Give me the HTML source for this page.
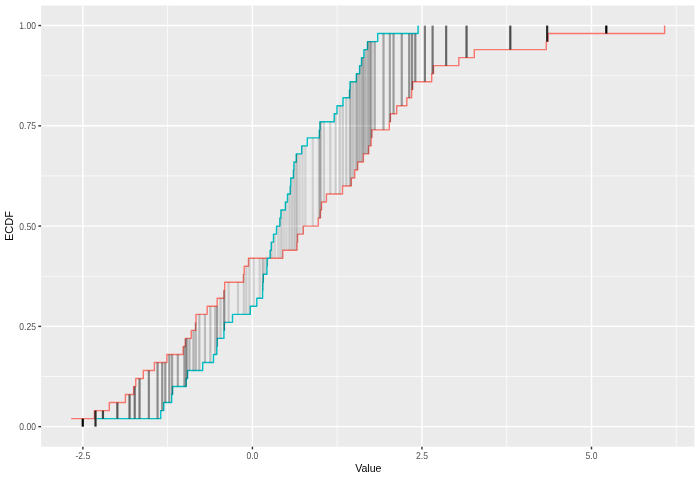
<!DOCTYPE html>
<html><head><meta charset="utf-8"><title>ECDF</title>
<style>html,body{margin:0;padding:0;background:#FFFFFF;}svg{display:block;}</style>
</head><body>
<svg width="700" height="480" viewBox="0 0 700 480">
<rect x="0" y="0" width="700" height="480" fill="#FFFFFF"/>
<rect x="41.1" y="5.5" width="653.30" height="441.17" fill="#EBEBEB"/>
<line x1="41.1" x2="694.4" y1="376.51" y2="376.51" stroke="#FFFFFF" stroke-width="0.71"/>
<line x1="41.1" x2="694.4" y1="276.24" y2="276.24" stroke="#FFFFFF" stroke-width="0.71"/>
<line x1="41.1" x2="694.4" y1="175.96" y2="175.96" stroke="#FFFFFF" stroke-width="0.71"/>
<line x1="41.1" x2="694.4" y1="75.69" y2="75.69" stroke="#FFFFFF" stroke-width="0.71"/>
<line x1="167.62" x2="167.62" y1="5.5" y2="446.67" stroke="#FFFFFF" stroke-width="0.71"/>
<line x1="337.18" x2="337.18" y1="5.5" y2="446.67" stroke="#FFFFFF" stroke-width="0.71"/>
<line x1="506.73" x2="506.73" y1="5.5" y2="446.67" stroke="#FFFFFF" stroke-width="0.71"/>
<line x1="676.27" x2="676.27" y1="5.5" y2="446.67" stroke="#FFFFFF" stroke-width="0.71"/>
<line x1="41.1" x2="694.4" y1="426.65" y2="426.65" stroke="#FFFFFF" stroke-width="1.42"/>
<line x1="41.1" x2="694.4" y1="326.38" y2="326.38" stroke="#FFFFFF" stroke-width="1.42"/>
<line x1="41.1" x2="694.4" y1="226.10" y2="226.10" stroke="#FFFFFF" stroke-width="1.42"/>
<line x1="41.1" x2="694.4" y1="125.82" y2="125.82" stroke="#FFFFFF" stroke-width="1.42"/>
<line x1="41.1" x2="694.4" y1="25.55" y2="25.55" stroke="#FFFFFF" stroke-width="1.42"/>
<line x1="82.85" x2="82.85" y1="5.5" y2="446.67" stroke="#FFFFFF" stroke-width="1.42"/>
<line x1="252.40" x2="252.40" y1="5.5" y2="446.67" stroke="#FFFFFF" stroke-width="1.42"/>
<line x1="421.95" x2="421.95" y1="5.5" y2="446.67" stroke="#FFFFFF" stroke-width="1.42"/>
<line x1="591.50" x2="591.50" y1="5.5" y2="446.67" stroke="#FFFFFF" stroke-width="1.42"/>
<path d="M71.10,418.63 L94.40,418.63 L94.40,410.61 L109.30,410.61 L109.30,402.58 L125.40,402.58 L125.40,394.56 L133.70,394.56 L133.70,386.54 L135.75,386.54 L135.75,378.52 L143.30,378.52 L143.30,370.50 L154.40,370.50 L154.40,362.47 L166.90,362.47 L166.90,354.45 L183.15,354.45 L183.15,346.43 L185.40,346.43 L185.40,338.41 L191.25,338.41 L191.25,330.39 L195.60,330.39 L195.60,322.36 L196.00,322.36 L196.00,314.34 L207.20,314.34 L207.20,306.32 L217.20,306.32 L217.20,298.30 L224.10,298.30 L224.10,290.28 L224.70,290.28 L224.70,282.25 L243.50,282.25 L243.50,274.23 L244.20,274.23 L244.20,266.21 L248.50,266.21 L248.50,258.19 L282.80,258.19 L282.80,250.17 L296.90,250.17 L296.90,242.14 L297.50,242.14 L297.50,234.12 L303.30,234.12 L303.30,226.10 L318.30,226.10 L318.30,218.08 L320.40,218.08 L320.40,210.06 L321.50,210.06 L321.50,202.03 L326.40,202.03 L326.40,194.01 L342.50,194.01 L342.50,185.99 L351.30,185.99 L351.30,177.97 L354.70,177.97 L354.70,169.95 L357.70,169.95 L357.70,161.92 L363.40,161.92 L363.40,153.90 L368.60,153.90 L368.60,145.88 L371.20,145.88 L371.20,137.86 L371.70,137.86 L371.70,129.84 L389.30,129.84 L389.30,121.81 L390.40,121.81 L390.40,113.79 L396.70,113.79 L396.70,105.77 L406.80,105.77 L406.80,97.75 L411.60,97.75 L411.60,89.73 L412.50,89.73 L412.50,81.70 L431.70,81.70 L431.70,73.68 L433.50,73.68 L433.50,65.66 L458.80,65.66 L458.80,57.64 L474.30,57.64 L474.30,49.62 L546.30,49.62 L546.30,41.59 L548.00,41.59 L548.00,33.57 L664.60,33.57 L664.60,25.55" fill="none" stroke="#F8766D" stroke-width="1.42" stroke-linejoin="round"/>
<path d="M96.60,418.63 L160.70,418.63 L160.70,410.61 L163.75,410.61 L163.75,402.58 L171.70,402.58 L171.70,394.56 L172.50,394.56 L172.50,386.54 L186.20,386.54 L186.20,378.52 L187.60,378.52 L187.60,370.50 L202.70,370.50 L202.70,362.47 L213.50,362.47 L213.50,354.45 L216.80,354.45 L216.80,346.43 L217.20,346.43 L217.20,338.41 L223.90,338.41 L223.90,330.39 L224.30,330.39 L224.30,322.36 L232.50,322.36 L232.50,314.34 L250.30,314.34 L250.30,306.32 L256.80,306.32 L256.80,298.30 L262.60,298.30 L262.60,290.28 L262.80,290.28 L262.80,282.25 L263.30,282.25 L263.30,274.23 L266.90,274.23 L266.90,266.21 L267.20,266.21 L267.20,258.19 L270.20,258.19 L270.20,250.17 L271.25,250.17 L271.25,242.14 L273.50,242.14 L273.50,234.12 L276.50,234.12 L276.50,226.10 L279.90,226.10 L279.90,218.08 L280.90,218.08 L280.90,210.06 L285.40,210.06 L285.40,202.03 L287.50,202.03 L287.50,194.01 L290.30,194.01 L290.30,185.99 L290.70,185.99 L290.70,177.97 L293.50,177.97 L293.50,169.95 L293.90,169.95 L293.90,161.92 L296.30,161.92 L296.30,153.90 L301.70,153.90 L301.70,145.88 L307.30,145.88 L307.30,137.86 L319.40,137.86 L319.40,129.84 L320.00,129.84 L320.00,121.81 L334.20,121.81 L334.20,113.79 L337.00,113.79 L337.00,105.77 L343.00,105.77 L343.00,97.75 L349.60,97.75 L349.60,89.73 L350.10,89.73 L350.10,81.70 L356.35,81.70 L356.35,73.68 L359.60,73.68 L359.60,65.66 L361.50,65.66 L361.50,57.64 L363.90,57.64 L363.90,49.62 L367.50,49.62 L367.50,41.59 L377.70,41.59 L377.70,33.57 L418.10,33.57 L418.10,25.55" fill="none" stroke="#00BFC4" stroke-width="1.42" stroke-linejoin="round"/>
<line x1="82.75" x2="82.75" y1="418.63" y2="426.65" stroke="#000000" stroke-opacity="1.000" stroke-width="2.2"/>
<line x1="95.50" x2="95.50" y1="410.61" y2="426.65" stroke="#000000" stroke-opacity="0.810" stroke-width="2.2"/>
<line x1="102.95" x2="102.95" y1="410.61" y2="418.63" stroke="#000000" stroke-opacity="0.699" stroke-width="2.2"/>
<line x1="117.35" x2="117.35" y1="402.58" y2="418.63" stroke="#000000" stroke-opacity="0.622" stroke-width="2.2"/>
<line x1="129.55" x2="129.55" y1="394.56" y2="418.63" stroke="#000000" stroke-opacity="0.563" stroke-width="2.2"/>
<line x1="134.72" x2="134.72" y1="386.54" y2="418.63" stroke="#000000" stroke-opacity="0.515" stroke-width="2.2"/>
<line x1="139.53" x2="139.53" y1="378.52" y2="418.63" stroke="#000000" stroke-opacity="0.475" stroke-width="2.2"/>
<line x1="148.85" x2="148.85" y1="370.50" y2="418.63" stroke="#000000" stroke-opacity="0.441" stroke-width="2.2"/>
<line x1="157.55" x2="157.55" y1="362.47" y2="418.63" stroke="#000000" stroke-opacity="0.411" stroke-width="2.2"/>
<line x1="162.22" x2="162.22" y1="362.47" y2="410.61" stroke="#000000" stroke-opacity="0.385" stroke-width="2.2"/>
<line x1="165.32" x2="165.32" y1="362.47" y2="402.58" stroke="#000000" stroke-opacity="0.361" stroke-width="2.2"/>
<line x1="169.30" x2="169.30" y1="354.45" y2="402.58" stroke="#000000" stroke-opacity="0.340" stroke-width="2.2"/>
<line x1="172.10" x2="172.10" y1="354.45" y2="394.56" stroke="#000000" stroke-opacity="0.321" stroke-width="2.2"/>
<line x1="177.82" x2="177.82" y1="354.45" y2="386.54" stroke="#000000" stroke-opacity="0.304" stroke-width="2.2"/>
<line x1="184.28" x2="184.28" y1="346.43" y2="386.54" stroke="#000000" stroke-opacity="0.288" stroke-width="2.2"/>
<line x1="185.80" x2="185.80" y1="338.41" y2="386.54" stroke="#000000" stroke-opacity="0.273" stroke-width="2.2"/>
<line x1="186.90" x2="186.90" y1="338.41" y2="378.52" stroke="#000000" stroke-opacity="0.259" stroke-width="2.2"/>
<line x1="189.43" x2="189.43" y1="338.41" y2="370.50" stroke="#000000" stroke-opacity="0.247" stroke-width="2.2"/>
<line x1="193.43" x2="193.43" y1="330.39" y2="370.50" stroke="#000000" stroke-opacity="0.235" stroke-width="2.2"/>
<line x1="195.80" x2="195.80" y1="322.36" y2="370.50" stroke="#000000" stroke-opacity="0.224" stroke-width="2.2"/>
<line x1="199.35" x2="199.35" y1="314.34" y2="370.50" stroke="#000000" stroke-opacity="0.214" stroke-width="2.2"/>
<line x1="204.95" x2="204.95" y1="314.34" y2="362.47" stroke="#000000" stroke-opacity="0.205" stroke-width="2.2"/>
<line x1="210.35" x2="210.35" y1="306.32" y2="362.47" stroke="#000000" stroke-opacity="0.196" stroke-width="2.2"/>
<line x1="215.15" x2="215.15" y1="306.32" y2="354.45" stroke="#000000" stroke-opacity="0.188" stroke-width="2.2"/>
<line x1="217.00" x2="217.00" y1="306.32" y2="346.43" stroke="#000000" stroke-opacity="0.180" stroke-width="2.2"/>
<line x1="217.20" x2="217.20" y1="306.32" y2="338.41" stroke="#000000" stroke-opacity="0.173" stroke-width="2.2"/>
<line x1="220.55" x2="220.55" y1="298.30" y2="338.41" stroke="#000000" stroke-opacity="0.166" stroke-width="2.2"/>
<line x1="224.00" x2="224.00" y1="298.30" y2="330.39" stroke="#000000" stroke-opacity="0.160" stroke-width="2.2"/>
<line x1="224.20" x2="224.20" y1="290.28" y2="330.39" stroke="#000000" stroke-opacity="0.154" stroke-width="2.2"/>
<line x1="224.50" x2="224.50" y1="290.28" y2="322.36" stroke="#000000" stroke-opacity="0.149" stroke-width="2.2"/>
<line x1="228.60" x2="228.60" y1="282.25" y2="322.36" stroke="#000000" stroke-opacity="0.143" stroke-width="2.2"/>
<line x1="238.00" x2="238.00" y1="282.25" y2="314.34" stroke="#000000" stroke-opacity="0.139" stroke-width="2.2"/>
<line x1="243.85" x2="243.85" y1="274.23" y2="314.34" stroke="#000000" stroke-opacity="0.134" stroke-width="2.2"/>
<line x1="246.35" x2="246.35" y1="266.21" y2="314.34" stroke="#000000" stroke-opacity="0.130" stroke-width="2.2"/>
<line x1="249.40" x2="249.40" y1="258.19" y2="314.34" stroke="#000000" stroke-opacity="0.126" stroke-width="2.2"/>
<line x1="253.55" x2="253.55" y1="258.19" y2="306.32" stroke="#000000" stroke-opacity="0.123" stroke-width="2.2"/>
<line x1="259.70" x2="259.70" y1="258.19" y2="298.30" stroke="#000000" stroke-opacity="0.120" stroke-width="2.2"/>
<line x1="262.70" x2="262.70" y1="258.19" y2="290.28" stroke="#000000" stroke-opacity="0.117" stroke-width="2.2"/>
<line x1="263.05" x2="263.05" y1="258.19" y2="282.25" stroke="#000000" stroke-opacity="0.114" stroke-width="2.2"/>
<line x1="265.10" x2="265.10" y1="258.19" y2="274.23" stroke="#000000" stroke-opacity="0.111" stroke-width="2.2"/>
<line x1="267.05" x2="267.05" y1="258.19" y2="266.21" stroke="#000000" stroke-opacity="0.109" stroke-width="2.2"/>
<line x1="270.73" x2="270.73" y1="258.19" y2="250.17" stroke="#000000" stroke-opacity="0.106" stroke-width="2.2"/>
<line x1="272.38" x2="272.38" y1="258.19" y2="242.14" stroke="#000000" stroke-opacity="0.104" stroke-width="2.2"/>
<line x1="275.00" x2="275.00" y1="258.19" y2="234.12" stroke="#000000" stroke-opacity="0.103" stroke-width="2.2"/>
<line x1="278.20" x2="278.20" y1="258.19" y2="226.10" stroke="#000000" stroke-opacity="0.102" stroke-width="2.2"/>
<line x1="280.40" x2="280.40" y1="258.19" y2="218.08" stroke="#000000" stroke-opacity="0.101" stroke-width="2.2"/>
<line x1="281.85" x2="281.85" y1="258.19" y2="210.06" stroke="#000000" stroke-opacity="0.100" stroke-width="2.2"/>
<line x1="284.10" x2="284.10" y1="250.17" y2="210.06" stroke="#000000" stroke-opacity="0.100" stroke-width="2.2"/>
<line x1="286.45" x2="286.45" y1="250.17" y2="202.03" stroke="#000000" stroke-opacity="0.100" stroke-width="2.2"/>
<line x1="288.90" x2="288.90" y1="250.17" y2="194.01" stroke="#000000" stroke-opacity="0.100" stroke-width="2.2"/>
<line x1="290.50" x2="290.50" y1="250.17" y2="185.99" stroke="#000000" stroke-opacity="0.100" stroke-width="2.2"/>
<line x1="292.10" x2="292.10" y1="250.17" y2="177.97" stroke="#000000" stroke-opacity="0.101" stroke-width="2.2"/>
<line x1="293.70" x2="293.70" y1="250.17" y2="169.95" stroke="#000000" stroke-opacity="0.102" stroke-width="2.2"/>
<line x1="295.10" x2="295.10" y1="250.17" y2="161.92" stroke="#000000" stroke-opacity="0.103" stroke-width="2.2"/>
<line x1="296.60" x2="296.60" y1="250.17" y2="153.90" stroke="#000000" stroke-opacity="0.104" stroke-width="2.2"/>
<line x1="297.20" x2="297.20" y1="242.14" y2="153.90" stroke="#000000" stroke-opacity="0.106" stroke-width="2.2"/>
<line x1="299.60" x2="299.60" y1="234.12" y2="153.90" stroke="#000000" stroke-opacity="0.107" stroke-width="2.2"/>
<line x1="302.50" x2="302.50" y1="234.12" y2="145.88" stroke="#000000" stroke-opacity="0.109" stroke-width="2.2"/>
<line x1="305.30" x2="305.30" y1="226.10" y2="145.88" stroke="#000000" stroke-opacity="0.111" stroke-width="2.2"/>
<line x1="312.80" x2="312.80" y1="226.10" y2="137.86" stroke="#000000" stroke-opacity="0.114" stroke-width="2.2"/>
<line x1="318.85" x2="318.85" y1="218.08" y2="137.86" stroke="#000000" stroke-opacity="0.117" stroke-width="2.2"/>
<line x1="319.70" x2="319.70" y1="218.08" y2="129.84" stroke="#000000" stroke-opacity="0.120" stroke-width="2.2"/>
<line x1="320.20" x2="320.20" y1="218.08" y2="121.81" stroke="#000000" stroke-opacity="0.123" stroke-width="2.2"/>
<line x1="320.95" x2="320.95" y1="210.06" y2="121.81" stroke="#000000" stroke-opacity="0.126" stroke-width="2.2"/>
<line x1="323.95" x2="323.95" y1="202.03" y2="121.81" stroke="#000000" stroke-opacity="0.130" stroke-width="2.2"/>
<line x1="330.30" x2="330.30" y1="194.01" y2="121.81" stroke="#000000" stroke-opacity="0.134" stroke-width="2.2"/>
<line x1="335.60" x2="335.60" y1="194.01" y2="113.79" stroke="#000000" stroke-opacity="0.139" stroke-width="2.2"/>
<line x1="339.75" x2="339.75" y1="194.01" y2="105.77" stroke="#000000" stroke-opacity="0.143" stroke-width="2.2"/>
<line x1="342.75" x2="342.75" y1="185.99" y2="105.77" stroke="#000000" stroke-opacity="0.149" stroke-width="2.2"/>
<line x1="346.30" x2="346.30" y1="185.99" y2="97.75" stroke="#000000" stroke-opacity="0.154" stroke-width="2.2"/>
<line x1="349.85" x2="349.85" y1="185.99" y2="89.73" stroke="#000000" stroke-opacity="0.160" stroke-width="2.2"/>
<line x1="350.70" x2="350.70" y1="185.99" y2="81.70" stroke="#000000" stroke-opacity="0.166" stroke-width="2.2"/>
<line x1="353.00" x2="353.00" y1="177.97" y2="81.70" stroke="#000000" stroke-opacity="0.173" stroke-width="2.2"/>
<line x1="355.52" x2="355.52" y1="169.95" y2="81.70" stroke="#000000" stroke-opacity="0.180" stroke-width="2.2"/>
<line x1="357.02" x2="357.02" y1="169.95" y2="73.68" stroke="#000000" stroke-opacity="0.188" stroke-width="2.2"/>
<line x1="358.65" x2="358.65" y1="161.92" y2="73.68" stroke="#000000" stroke-opacity="0.196" stroke-width="2.2"/>
<line x1="360.55" x2="360.55" y1="161.92" y2="65.66" stroke="#000000" stroke-opacity="0.205" stroke-width="2.2"/>
<line x1="362.45" x2="362.45" y1="161.92" y2="57.64" stroke="#000000" stroke-opacity="0.214" stroke-width="2.2"/>
<line x1="363.65" x2="363.65" y1="153.90" y2="57.64" stroke="#000000" stroke-opacity="0.224" stroke-width="2.2"/>
<line x1="365.70" x2="365.70" y1="153.90" y2="49.62" stroke="#000000" stroke-opacity="0.235" stroke-width="2.2"/>
<line x1="368.05" x2="368.05" y1="153.90" y2="41.59" stroke="#000000" stroke-opacity="0.247" stroke-width="2.2"/>
<line x1="369.90" x2="369.90" y1="145.88" y2="41.59" stroke="#000000" stroke-opacity="0.259" stroke-width="2.2"/>
<line x1="371.45" x2="371.45" y1="137.86" y2="41.59" stroke="#000000" stroke-opacity="0.273" stroke-width="2.2"/>
<line x1="374.70" x2="374.70" y1="129.84" y2="41.59" stroke="#000000" stroke-opacity="0.288" stroke-width="2.2"/>
<line x1="383.50" x2="383.50" y1="129.84" y2="33.57" stroke="#000000" stroke-opacity="0.304" stroke-width="2.2"/>
<line x1="389.85" x2="389.85" y1="121.81" y2="33.57" stroke="#000000" stroke-opacity="0.321" stroke-width="2.2"/>
<line x1="393.55" x2="393.55" y1="113.79" y2="33.57" stroke="#000000" stroke-opacity="0.340" stroke-width="2.2"/>
<line x1="401.75" x2="401.75" y1="105.77" y2="33.57" stroke="#000000" stroke-opacity="0.361" stroke-width="2.2"/>
<line x1="409.20" x2="409.20" y1="97.75" y2="33.57" stroke="#000000" stroke-opacity="0.385" stroke-width="2.2"/>
<line x1="412.05" x2="412.05" y1="89.73" y2="33.57" stroke="#000000" stroke-opacity="0.411" stroke-width="2.2"/>
<line x1="415.30" x2="415.30" y1="81.70" y2="33.57" stroke="#000000" stroke-opacity="0.441" stroke-width="2.2"/>
<line x1="424.90" x2="424.90" y1="81.70" y2="25.55" stroke="#000000" stroke-opacity="0.475" stroke-width="2.2"/>
<line x1="432.60" x2="432.60" y1="73.68" y2="25.55" stroke="#000000" stroke-opacity="0.515" stroke-width="2.2"/>
<line x1="446.15" x2="446.15" y1="65.66" y2="25.55" stroke="#000000" stroke-opacity="0.563" stroke-width="2.2"/>
<line x1="466.55" x2="466.55" y1="57.64" y2="25.55" stroke="#000000" stroke-opacity="0.622" stroke-width="2.2"/>
<line x1="510.30" x2="510.30" y1="49.62" y2="25.55" stroke="#000000" stroke-opacity="0.699" stroke-width="2.2"/>
<line x1="547.15" x2="547.15" y1="41.59" y2="25.55" stroke="#000000" stroke-opacity="0.810" stroke-width="2.2"/>
<line x1="606.30" x2="606.30" y1="33.57" y2="25.55" stroke="#000000" stroke-opacity="1.000" stroke-width="2.2"/>
<g style="opacity:0.999">
<line x1="38.35" x2="41.1" y1="426.65" y2="426.65" stroke="#333333" stroke-width="1.42"/>
<text transform="translate(35.9,430) scale(0.97,1.13)" text-anchor="end" font-family="Liberation Sans, Arial, sans-serif" font-size="8.8" text-rendering="geometricPrecision" fill="#4D4D4D">0.00</text>
<line x1="38.35" x2="41.1" y1="326.38" y2="326.38" stroke="#333333" stroke-width="1.42"/>
<text transform="translate(35.9,330) scale(0.97,1.13)" text-anchor="end" font-family="Liberation Sans, Arial, sans-serif" font-size="8.8" text-rendering="geometricPrecision" fill="#4D4D4D">0.25</text>
<line x1="38.35" x2="41.1" y1="226.10" y2="226.10" stroke="#333333" stroke-width="1.42"/>
<text transform="translate(35.9,230) scale(0.97,1.13)" text-anchor="end" font-family="Liberation Sans, Arial, sans-serif" font-size="8.8" text-rendering="geometricPrecision" fill="#4D4D4D">0.50</text>
<line x1="38.35" x2="41.1" y1="125.82" y2="125.82" stroke="#333333" stroke-width="1.42"/>
<text transform="translate(35.9,129) scale(0.97,1.13)" text-anchor="end" font-family="Liberation Sans, Arial, sans-serif" font-size="8.8" text-rendering="geometricPrecision" fill="#4D4D4D">0.75</text>
<line x1="38.35" x2="41.1" y1="25.55" y2="25.55" stroke="#333333" stroke-width="1.42"/>
<text transform="translate(35.9,29) scale(0.97,1.13)" text-anchor="end" font-family="Liberation Sans, Arial, sans-serif" font-size="8.8" text-rendering="geometricPrecision" fill="#4D4D4D">1.00</text>
<line x1="82.85" x2="82.85" y1="446.67" y2="449.42" stroke="#333333" stroke-width="1.42"/>
<text transform="translate(82.85,459.0) scale(0.97,1.13)" text-anchor="middle" font-family="Liberation Sans, Arial, sans-serif" font-size="8.8" text-rendering="geometricPrecision" fill="#4D4D4D">-2.5</text>
<line x1="252.40" x2="252.40" y1="446.67" y2="449.42" stroke="#333333" stroke-width="1.42"/>
<text transform="translate(252.40,459.0) scale(0.97,1.13)" text-anchor="middle" font-family="Liberation Sans, Arial, sans-serif" font-size="8.8" text-rendering="geometricPrecision" fill="#4D4D4D">0.0</text>
<line x1="421.95" x2="421.95" y1="446.67" y2="449.42" stroke="#333333" stroke-width="1.42"/>
<text transform="translate(421.95,459.0) scale(0.97,1.13)" text-anchor="middle" font-family="Liberation Sans, Arial, sans-serif" font-size="8.8" text-rendering="geometricPrecision" fill="#4D4D4D">2.5</text>
<line x1="591.50" x2="591.50" y1="446.67" y2="449.42" stroke="#333333" stroke-width="1.42"/>
<text transform="translate(591.50,459.0) scale(0.97,1.13)" text-anchor="middle" font-family="Liberation Sans, Arial, sans-serif" font-size="8.8" text-rendering="geometricPrecision" fill="#4D4D4D">5.0</text>
<text transform="translate(368.35,471.6) scale(0.962,1)" text-anchor="middle" font-family="Liberation Sans, Arial, sans-serif" font-size="11" fill="#000000">Value</text>
<text transform="translate(13.1,226.09) rotate(-90)" x="0" y="0" text-anchor="middle" font-family="Liberation Sans, Arial, sans-serif" font-size="11" fill="#000000">ECDF</text>
</g></svg>
</body></html>
